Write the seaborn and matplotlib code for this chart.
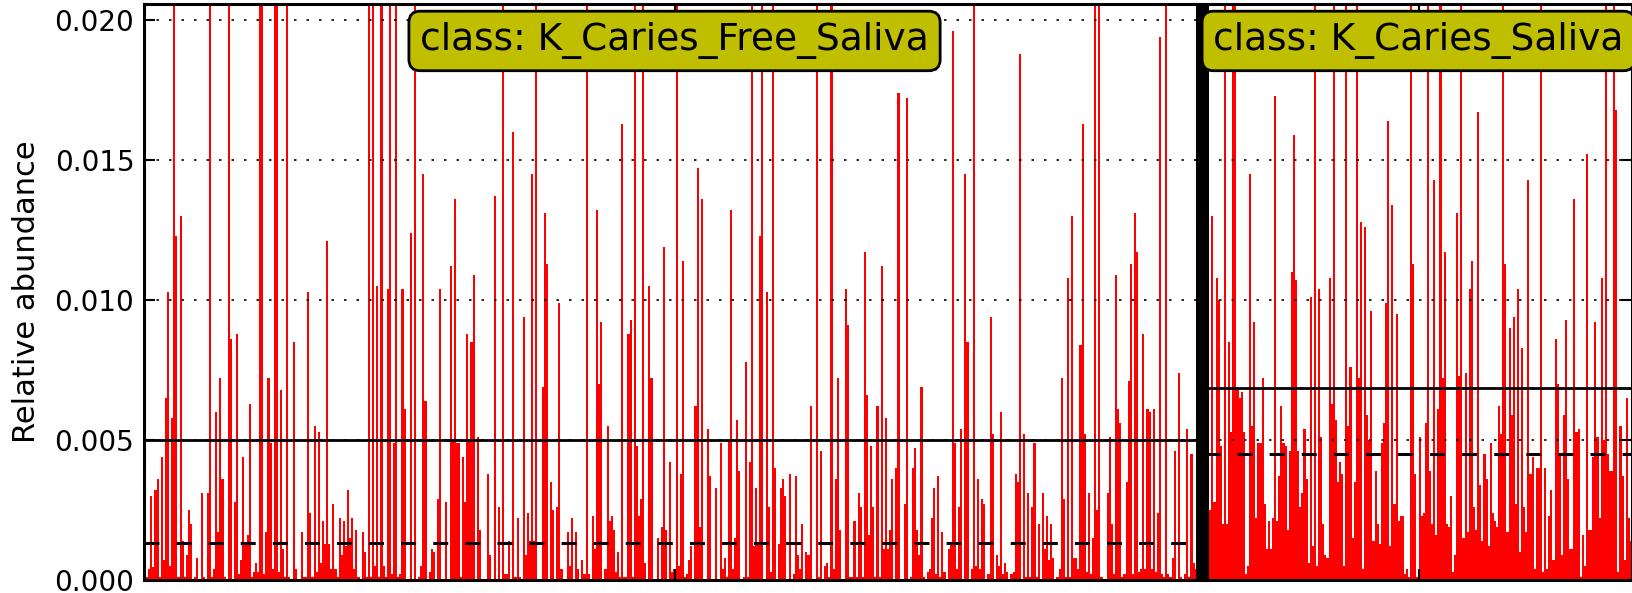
import matplotlib
matplotlib.use('Agg')
import matplotlib.pyplot as plt
from matplotlib.ticker import FormatStrFormatter
import numpy as np
import seaborn as sns

# class names, mean / median lines
classes = ['K_Caries_Free_Saliva', 'K_Caries_Saliva']
class_means = [0.0050, 0.00685]
class_medians = [0.00133, 0.00450]

# relative abundance per sample (0.03 = bar runs off the top)
caries_free = [
    .0077, .0001, .0004, .0030, .00045, .0032, .0036, .0001, .0044, .0007, .0065, .0103, .0005, .0058, .03, .0123,
    .0001, .0130, .0014, .0001, .0009, .0025, .0020, .0000, .0001, .0008, .0000, .0031, .0001, .0000, .0031, .03,
    .0001, .0004, .0060, .0017, .0072, .0036, .0001, .0000, .03, .0086, .0000, .0028, .0088, .0002, .0007, .0044,
    .0013, .0016, .0063, .0001, .0003, .0006, .0003, .03, .03, .0002, .0017, .0072, .0049, .0004, .03, .03,
    .0003, .0068, .0011, .0001, .03, .0001, .0000, .0085, .0004, .0000, .0000, .0017, .0001, .0001, .0103, .0024,
    .0001, .0055, .0003, .0053, .0006, .0021,
    .0013, .0121, .0013, .0004, .0027, .0004, .0001, .0022, .0009, .0021, .0012, .0032, .0015, .0022, .0004, .0018,
    .0001, .0000, .0017, .0010, .0001, .03, .0001, .03, .0005, .0105, .0001, .03, .0005, .0001, .0104, .03,
    .0002, .0049, .03, .0001, .0002, .0104, .0061, .0000, .0000, .0124, .0000, .03, .0000, .0001, .0005, .0145,
    .0064, .0000, .0003, .0011, .0010, .0000, .0029, .0104, .0000, .0000, .0028, .0000, .0112, .0050, .0136, .0049,
    .0049, .0001, .0044, .0028, .0088, .0050, .0085, .0109, .0000, .0051, .0018, .0000, .0000, .0000, .0038, .0009,
    .0000, .0137, .0000, .0026, .0000, .03, .0002, .0002,
    .0014, .0000, .0160, .0001, .0022, .0001, .0000, .0094, .0009, .0024, .0014, .0145, .0014, .03, .0000, .0000,
    .0069, .0131, .0113, .0000, .0035, .0025, .0000, .0026, .0099, .0004, .0000, .0000, .0017, .0005, .0022, .0000,
    .0017, .0004, .0000, .0007, .0002, .03, .0002, .0000, .0023, .0011, .0132, .0070, .0092, .0000, .0004, .0055,
    .0021, .0023, .0018, .0003, .0010, .0001, .0163, .0001, .0001, .0088, .0093, .0001, .0205, .0048, .0023, .0029,
    .03, .0006, .0000, .0105, .0072, .0000, .0000, .0015, .0000, .0019, .0119, .0018, .0000, .0042, .0003, .0004,
    .03, .0005, .0038, .0114, .0001, .0002, .0007, .0012, .0000, .0062,
    .0147, .0019, .0136, .0000, .0000, .0054, .0037, .0000, .0000, .0033, .0000, .0049, .0004, .0008, .0001, .0050,
    .0132, .0004, .0015, .0057, .0039, .0000, .0001, .0078, .0001, .0042, .03, .0012, .0033, .0013, .0123, .0205,
    .0000, .0103, .0026, .0003, .03, .0040, .0000, .0013, .0033, .0036, .0030, .0000, .0038, .0000, .0002, .0037,
    .0009, .0004, .0020, .0000, .0010, .0009, .0062, .0000, .0000, .03, .0001, .0046, .0000, .0005, .0006, .0001,
    .03, .0004, .0036, .0072, .0018, .0000, .0000, .0104, .0091, .0001, .0001, .0021, .0001, .0031, .0026, .0001,
    .0117, .0066, .0016, .0048, .0026, .0001, .0062, .0001, .0112, .0011,
    .0058, .0011, .0018, .0036, .0000, .0040, .0174, .0000, .0000, .0027, .0172, .0000, .0001, .0040, .0047, .0018,
    .0009, .0069, .0001, .0000, .0003, .0004, .0022, .0033, .0002, .0037, .0001, .0017, .0003, .0000, .0011, .0013,
    .0196, .0049, .0004, .0026, .0054, .0000, .0145, .0085, .0000, .0004, .03, .0005, .0036, .0004, .0029, .0027,
    .0000, .0002, .0094, .0052, .0000, .0009, .0005, .0060, .0002, .0006, .0003, .0000, .0002, .0003, .0038, .0035,
    .0188, .0000, .0052, .0001, .0031, .0001, .0026, .0049, .0001, .0020, .0000, .0031, .0011, .0023, .0007, .0020,
    .0008, .0000, .0001, .0004, .0072, .0029, .0001, .0108, .0001, .0130, .0008,
    .0008, .0004, .0084, .0163, .0052, .0003, .0031, .0002, .0015, .03, .0025, .03, .0001, .0000, .0000, .0031,
    .0051, .0020, .0002, .0109, .0061, .0056, .0001, .0002, .0035, .0071, .0113, .0002, .0131, .0117, .0003, .0004,
    .0088, .0004, .0061, .0060, .0004, .0061, .0003, .0024, .0194, .0002, .0001, .03, .0002, .0001, .0008, .0046,
    .0000, .0074, .0001, .0000, .0002, .0054, .0001, .0045, .0006, .0004, .0003, .0005, .0010, .0003,
]

caries = [
    .0060, .0017, .0025, .0130, .0028, .0108, .0100, .0048, .0020, .03, .0020, .0085, .0053, .03, .03, .0068,
    .0065, .0067, .0053, .0002, .0005, .0145, .0055, .0092, .0022, .0049,
    .0049, .0072, .0027, .0011, .0021, .0011, .0022, .0173, .0021, .0037, .0062, .0049, .0048, .0018, .0046, .0110,
    .0159, .0107, .0046, .0026, .0031, .0054, .0036, .0006, .0101, .0012, .03, .0005, .0104, .0051, .0020, .0009,
    .0008, .0108, .0063, .03, .0057, .0035, .0042, .0038, .0005, .03, .0055, .0076, .0015, .0035, .03, .0072,
    .0128, .0004, .0126, .0059, .0050, .0096, .0014, .0039, .0020, .0013, .0049, .0056, .0099, .0164, .0012, .0134,
    .0027, .0095, .0021, .0023, .0023, .0002, .0004, .0001, .03, .0113, .0038, .0001, .0051, .0023, .0024, .0056,
    .03, .0039, .0020, .0143, .0016, .0061, .03, .0072, .0117, .0020,
    .0019, .0030, .0003, .0009, .0131, .0073, .03, .0015, .0074, .0017, .0104, .0114, .0026, .0018, .0167, .0034,
    .0014, .0045, .0036, .0012, .0049, .0024, .0021, .0019, .0062, .0052, .03, .0113, .0017, .0090, .0059, .0094,
    .0027, .0104, .0010, .0083, .0026, .0017, .0143, .0038, .0044, .0004, .0040, .0040, .03, .0003, .0040, .0004,
    .0023, .0032, .0007, .0086, .0070, .0045, .0009, .0059, .0093, .0036, .0011, .0011, .0136, .0053, .0054, .0001,
    .0016, .0005, .0152, .0018, .0018, .0044, .0092, .0051, .0022, .0108, .0050, .03, .0045, .0039, .0039, .03,
    .0168, .0003, .0055, .0037, .0007, .0065, .0022, .0014,
]

sns.set_style('white')
plt.rcParams['font.family'] = ['DejaVu Sans']
plt.rcParams['text.color'] = 'k'
plt.rcParams['axes.labelcolor'] = 'k'
plt.rcParams['ytick.color'] = 'k'
plt.rcParams['xtick.color'] = 'k'

n1 = len(caries_free)
values = caries_free + caries
n = len(values)
pos = np.arange(n)

fig = plt.figure(figsize=(16.33, 5.93), dpi=100)
ax = fig.add_axes([144 / 1633, 13 / 593, (1632 - 144) / 1633, 576 / 593])

sns.barplot(x=pos, y=values, color='#ff0000', saturation=1, width=1.0, errorbar=None,
            native_scale=True, linewidth=0, ax=ax, zorder=1)

ax.set_xlim(-0.5, n - 0.5)
ax.set_ylim(0, 0.02057)

# mean (solid) and median (dashed) per class
bounds = [(-0.5, n1 - 0.5), (n1 - 0.5, n - 0.5)]
for (x0, x1), m, md in zip(bounds, class_means, class_medians):
    ax.plot([x0, x1], [m, m], color='k', lw=2.0, zorder=3)
    ax.plot([x0, x1], [md, md], color='k', lw=2.2, linestyle=(0, (4.9, 5.6)),
            dash_capstyle='butt', zorder=3)

# class separator
ax.axvline(n1 - 2, color='k', lw=9.4, zorder=4)

centers = [(n1 - 1) / 2, n1 + (len(caries) - 1) / 2]
for cx, name in zip(centers, classes):
    ax.text(cx, 0.01925, 'class: ' + name, ha='center', va='center', fontsize=27, color='k', zorder=6,
            bbox=dict(boxstyle='round,pad=0.3', facecolor=(0.75, 0.75, 0), edgecolor='k', linewidth=2))

ax.set_yticks([0, 0.005, 0.010, 0.015, 0.020])
ax.yaxis.set_major_formatter(FormatStrFormatter('%.3f'))
ax.set_xticks(centers)
ax.set_xticklabels([])
ax.set_xlabel('')
ax.yaxis.grid(True, color='k', linestyle=(0, (1.5, 6)), linewidth=1.2)
ax.xaxis.grid(False)
ax.set_axisbelow(False)
ax.tick_params(axis='y', direction='in', length=8, width=1.5, left=True, right=True,
               labelsize=20, labelcolor='k', pad=7)
ax.tick_params(axis='x', direction='in', length=8, width=1.5, bottom=True, top=True)
for s in ax.spines.values():
    s.set_linewidth(2.2)
    s.set_color('k')
ax.set_ylabel('Relative abundance', fontsize=22, labelpad=10, color='k')

fig.savefig('out.png', dpi=100)
